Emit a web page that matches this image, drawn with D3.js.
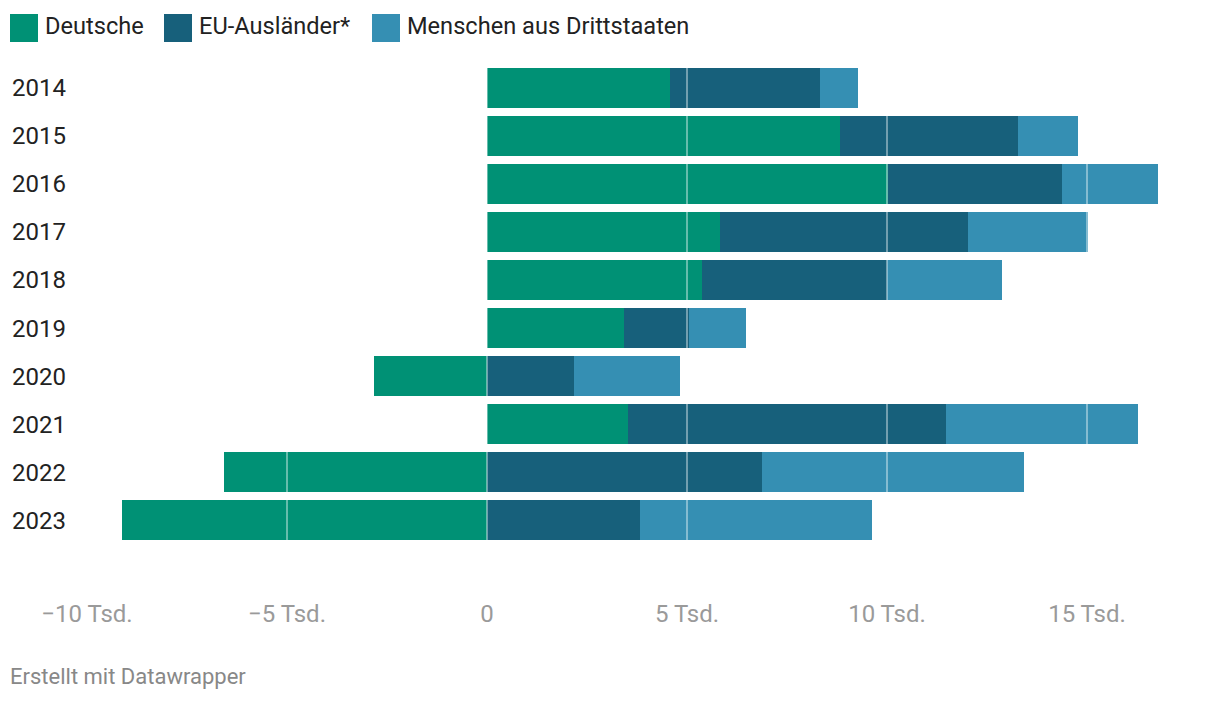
<!DOCTYPE html>
<html><head><meta charset="utf-8">
<script src="https://cdn.jsdelivr.net/npm/d3@7"></script>
<style>body{margin:0;background:#fff;font-family:Roboto,sans-serif}</style>
</head><body><svg id="c" width="1220" height="702"></svg>
<script>
const years = ["2014","2015","2016","2017","2018","2019","2020","2021","2022","2023"];
const deutsche = [4.575, 8.825, 10.025, 5.825, 5.375, 3.425, -2.825, 3.525, -6.575, -9.125];
const euAuslaender = [3.75, 4.45, 4.35, 6.2, 4.625, 1.625, 2.175, 7.95, 6.875, 3.825];
const drittstaaten = [0.95, 1.5, 2.4, 3.0, 2.875, 1.425, 2.65, 4.8, 6.55, 5.8];
const seriesNames = ["Deutsche","EU-Ausländer*","Menschen aus Drittstaaten"];
const colors = ["#009175","#17607b","#358fb3"];
const ticks = [-10,-5,0,5,10,15];
const tickLabels = ["−10 Tsd.","−5 Tsd.","0","5 Tsd.","10 Tsd.","15 Tsd."];

const svg = d3.select("#c");
const x = d3.scaleLinear().domain([-10,15]).range([87,1087]);
const y = d3.scaleBand().domain(years).range([64,544]).paddingInner(0.1667).paddingOuter(0.0833);

// legend
const legX = [10,164,372];
seriesNames.forEach((n,i)=>{
  svg.append("rect").attr("x",legX[i]).attr("y",14).attr("width",28).attr("height",28).attr("fill",colors[i]);
  svg.append("text").attr("x",legX[i]+35).attr("y",34).attr("font-size",23.6).attr("fill","#222").text(n);
});

// year labels
svg.selectAll(".yl").data(years).enter().append("text")
  .attr("x",12).attr("y",d=>y(d)+y.bandwidth()/2+8.5).attr("font-size",24).attr("fill","#222").text(d=>d);

// bars
years.forEach((yr,i)=>{
  const vals=[deutsche[i],euAuslaender[i],drittstaaten[i]];
  let pos=0, neg=0;
  vals.forEach((v,j)=>{
    let x0,x1;
    if(v>=0){x0=pos;x1=pos+v;pos=x1;} else {x0=neg+v;x1=neg;neg=x0;}
    svg.append("rect").attr("x",x(x0)).attr("y",y(yr)).attr("width",x(x1)-x(x0)).attr("height",y.bandwidth()).attr("fill",colors[j]);
  });
});

// gridlines over bars
svg.selectAll(".g").data(ticks).enter().append("line")
  .attr("x1",d=>x(d)).attr("x2",d=>x(d)).attr("y1",60).attr("y2",548)
  .attr("stroke","#fff").attr("stroke-opacity",0.4).attr("stroke-width",2);

// axis labels
svg.selectAll(".tl").data(ticks).enter().append("text")
  .attr("x",d=>x(d)).attr("y",622).attr("text-anchor","middle").attr("font-size",24).attr("fill","#9a9a9a")
  .text((d,i)=>tickLabels[i]);

svg.append("text").attr("x",10).attr("y",684).attr("font-size",22).attr("fill","#888").text("Erstellt mit Datawrapper");
</script></body></html>
